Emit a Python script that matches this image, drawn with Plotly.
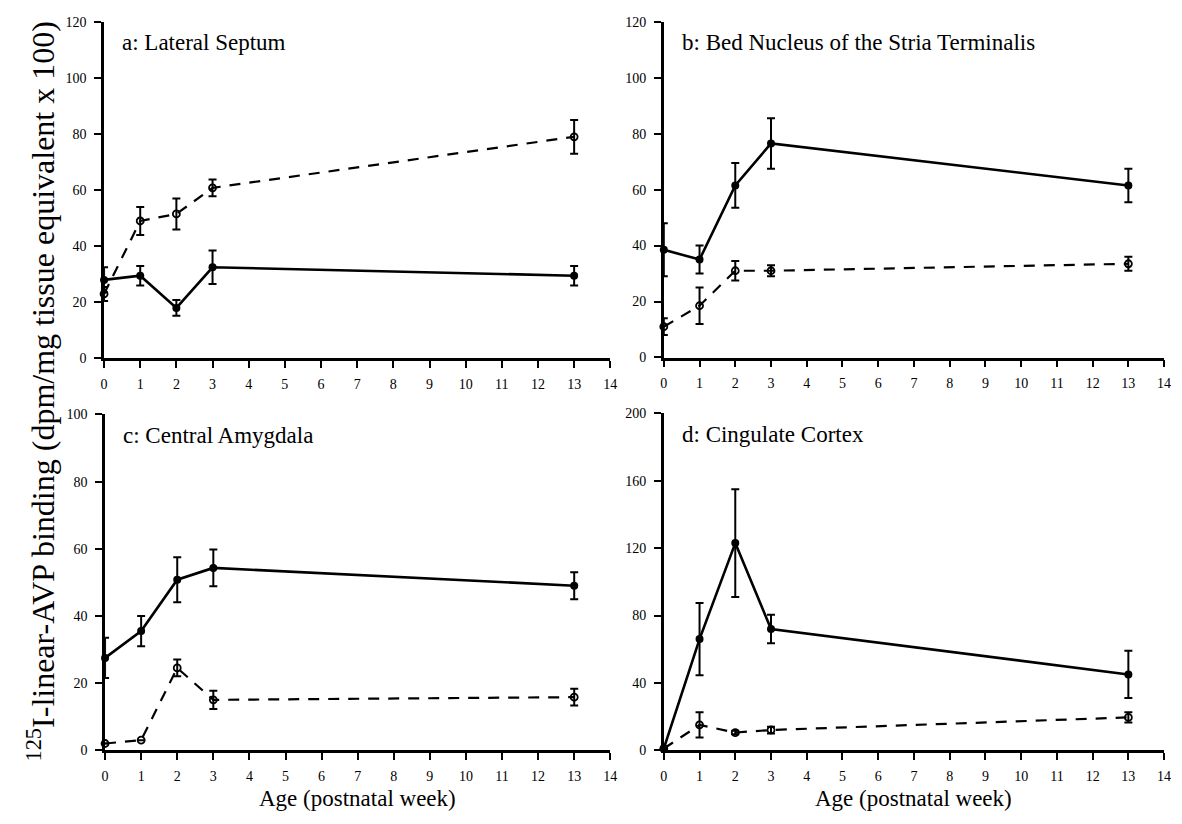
import plotly.graph_objects as go

weeks = [0, 1, 2, 3, 13]

# Panel a: Lateral Septum
a_solid = [28, 29.5, 18, 32.5, 29.5]
a_solid_err = [4.5, 3.5, 2.8, 6, 3.5]
a_dashed = [23, 49, 51.5, 60.8, 79]
a_dashed_err = [2.5, 5, 5.5, 3, 6]

# Panel b: Bed Nucleus of the Stria Terminalis
b_solid = [38.5, 35, 61.5, 76.5, 61.5]
b_solid_err = [9.5, 5, 8, 9, 6]
b_dashed = [11, 18.5, 31, 31, 33.5]
b_dashed_err = [3, 6.5, 3.5, 2, 2.5]

# Panel c: Central Amygdala
c_solid = [27.5, 35.5, 50.8, 54.3, 49]
c_solid_err = [6, 4.5, 6.7, 5.5, 4]
c_dashed = [2, 3, 24.5, 15, 15.8]
c_dashed_err = [0, 0, 2.5, 2.7, 2.5]

# Panel d: Cingulate Cortex
d_solid = [1, 66, 123, 72, 45]
d_solid_err = [0, 21.5, 32, 8.5, 14]
d_dashed = [1, 15, 10.5, 12, 19.5]
d_dashed_err = [0, 7.5, 1, 2, 3]

panel_titles = ["a: Lateral Septum", "b: Bed Nucleus of the Stria Terminalis",
                "c: Central Amygdala", "d: Cingulate Cortex"]
y_ranges = [120, 120, 100, 200]
y_dticks = [20, 20, 20, 40]
x_ticks = list(range(0, 15))

W, H = 1182, 824
FONT = "Liberation Serif"

panels = [
    (a_solid, a_solid_err, a_dashed, a_dashed_err),
    (b_solid, b_solid_err, b_dashed, b_dashed_err),
    (c_solid, c_solid_err, c_dashed, c_dashed_err),
    (d_solid, d_solid_err, d_dashed, d_dashed_err),
]

# pixel boxes of each plot area: (left, right, top, bottom)
boxes = [(101, 612, 15, 358), (666, 1171, 15, 357),
         (102, 612, 415, 757), (666, 1171, 414, 757)]

fig = go.Figure()
layout = {}
for i, (s, se, d, de) in enumerate(panels):
    n = "" if i == 0 else str(i + 1)
    xa, ya = "x" + n, "y" + n
    fig.add_trace(go.Scatter(
        x=weeks, y=d, xaxis=xa, yaxis=ya, mode="lines+markers",
        line=dict(color="black", width=2.2, dash="11px,9px"),
        marker=dict(symbol="circle-open", size=7, color="black", line=dict(width=1.8)),
        error_y=dict(type="data", array=de, color="black", thickness=2, width=4),
        cliponaxis=False, showlegend=False))
    fig.add_trace(go.Scatter(
        x=weeks, y=s, xaxis=xa, yaxis=ya, mode="lines+markers",
        line=dict(color="black", width=2.6),
        marker=dict(symbol="circle", size=8, color="black"),
        error_y=dict(type="data", array=se, color="black", thickness=2, width=4),
        cliponaxis=False, showlegend=False))
    l, r, t, b = boxes[i]
    layout["xaxis" + n] = dict(
        domain=[l / W, r / W], anchor=ya, range=[0, 14], tickvals=x_ticks,
        showgrid=False, zeroline=False, showline=True, linecolor="black", linewidth=2.5,
        ticks="outside", ticklen=7, tickwidth=2, tickcolor="black",
        tickfont=dict(family=FONT, size=14, color="black"), ticklabelstandoff=4)
    layout["yaxis" + n] = dict(
        domain=[1 - b / H, 1 - t / H], anchor=xa, range=[0, y_ranges[i]],
        dtick=y_dticks[i], tick0=0,
        showgrid=False, zeroline=False, showline=True, linecolor="black", linewidth=2.5,
        ticks="outside", ticklen=7, tickwidth=2, tickcolor="black",
        tickfont=dict(family=FONT, size=14, color="black"), ticklabelstandoff=5)
    fig.add_annotation(text=panel_titles[i], xref="paper", yref="paper",
                       x=(l + 16) / W, y=1 - (t + 21) / H, xanchor="left", yanchor="middle",
                       showarrow=False, font=dict(family=FONT, size=23, color="black"))

for cx in [(102 + 612) / 2, (666 + 1171) / 2]:
    fig.add_annotation(text="Age (postnatal week)", xref="paper", yref="paper",
                       x=cx / W, y=1 - 806 / H, xanchor="center", yanchor="middle",
                       showarrow=False, font=dict(family=FONT, size=23, color="black"))

fig.add_annotation(text="<sup>125</sup>I-linear-AVP binding (dpm/mg tissue equivalent x 100)",
                   xref="paper", yref="paper", x=37 / W, y=1 - 392 / H,
                   xanchor="center", yanchor="middle", textangle=-90, showarrow=False,
                   font=dict(family=FONT, size=32, color="black"))

fig.update_layout(width=W, height=H, margin=dict(l=0, r=0, t=0, b=0),
                  paper_bgcolor="white", plot_bgcolor="white", **layout)
fig.write_html("out.html", config={"displayModeBar": False},
               post_script="document.body.style.margin='0px';")
